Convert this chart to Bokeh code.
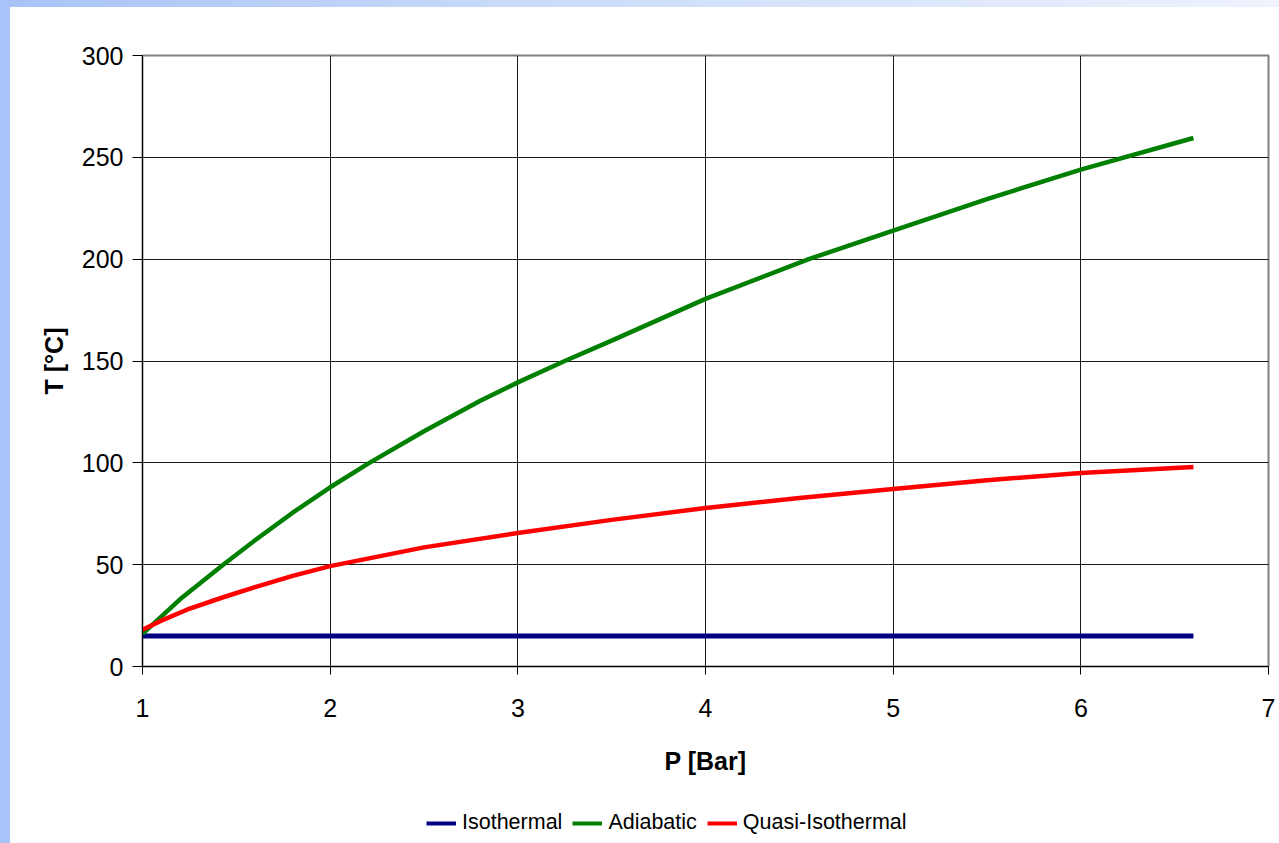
from bokeh.plotting import figure
from bokeh.models import Range1d, FixedTicker, Legend, LegendItem
from bokeh.layouts import column
from bokeh.embed import file_html
from bokeh.resources import INLINE

# ---- data ----
p_iso = [1.0, 6.6]
t_iso = [15, 15]

p_adi = [1.0, 1.2, 1.43, 1.6, 1.8, 2.0, 2.2, 2.5, 2.8, 3.0, 3.25, 3.5, 4.0,
         4.55, 5.0, 5.5, 6.0, 6.6]
t_adi = [16, 33, 50, 62, 75.5, 88, 99.5, 115.5, 130.5, 139.5, 150, 160, 180.5,
         200, 214, 229.5, 244, 259.5]

p_quasi = [1.0, 1.1, 1.24, 1.43, 1.6, 1.8, 2.0, 2.5, 3.0, 3.5, 4.0, 4.5, 5.0,
           5.5, 6.0, 6.6]
t_quasi = [18, 22.5, 28, 34, 39, 44.5, 49.3, 58.5, 65.5, 72, 77.8, 82.7, 87.2,
           91.5, 95, 98]

series_names = ["Isothermal", "Adiabatic", "Quasi-Isothermal"]
series_colors = ["#000080", "#008000", "#ff0000"]
series_widths = [5, 4.5, 4.5]

x_ticks = [1, 2, 3, 4, 5, 6, 7]
y_ticks = [0, 50, 100, 150, 200, 250, 300]

FONT = "Liberation Sans"

p = figure(frame_width=1126, frame_height=611, width=1269, height=780,
           x_range=Range1d(1, 7), y_range=Range1d(0, 300),
           output_backend="svg", toolbar_location=None,
           min_border_left=132, min_border_right=11,
           min_border_top=48, min_border_bottom=121,
           background_fill_color="white", border_fill_color="white")

p.outline_line_color = "#808080"
p.outline_line_width = 2

for g in (p.xgrid, p.ygrid):
    g.grid_line_color = "#1a1a1a"
    g.grid_line_width = 1
p.xaxis.ticker = FixedTicker(ticks=x_ticks)
p.yaxis.ticker = FixedTicker(ticks=y_ticks)

for ax in (p.xaxis, p.yaxis):
    ax.axis_line_color = "black"
    ax.major_tick_line_color = "black"
    ax.minor_tick_line_color = None
    ax.major_tick_in = 0
    ax.major_label_text_font = FONT
    ax.major_label_text_font_size = "25px"
    ax.major_label_text_color = "black"
    ax.axis_label_text_font = FONT
    ax.axis_label_text_font_size = "25px"
    ax.axis_label_text_font_style = "bold"
    ax.axis_label_text_color = "black"

p.xaxis.major_tick_out = 8
p.xaxis.major_label_standoff = 24
p.xaxis.axis_label = "P [Bar]"
p.xaxis.axis_label_standoff = 27

p.yaxis.major_tick_out = 10
p.yaxis.major_label_standoff = 9
p.yaxis.axis_label = "T [°C]"
p.yaxis.axis_label_standoff = 11

data = [(p_iso, t_iso), (p_adi, t_adi), (p_quasi, t_quasi)]
for (xs, ys), c, w in zip(data, series_colors, series_widths):
    p.line(xs, ys, line_color=c, line_width=w)

# ---- legend strip below the chart (series drawn out of view, only the
# legend entries show) ----
leg = figure(width=1269, height=56, x_range=Range1d(-10, -9), y_range=Range1d(-10, -9),
             output_backend="svg", toolbar_location=None,
             x_axis_location=None, y_axis_location=None, min_border=0,
             background_fill_color=None, border_fill_color="white")
leg.outline_line_color = None
leg.grid.visible = False
items = []
for (xs, ys), name, c in zip(data, series_names, series_colors):
    r = leg.line(xs, ys, line_color=c, line_width=4)
    items.append(LegendItem(label=name, renderers=[r]))

legend = Legend(items=items, orientation="horizontal", location=(284, 8))
legend.label_text_font = FONT
legend.label_text_font_size = "21.5px"
legend.label_text_color = "black"
legend.glyph_width = 30
legend.glyph_height = 24
legend.label_standoff = 6
legend.spacing = 10
legend.padding = 0
legend.margin = 0
legend.border_line_color = None
legend.background_fill_alpha = 0
leg.add_layout(legend)

layout = column(p, leg, spacing=0, styles={
    "background": "linear-gradient(#ffffff, #ffffff) content-box, "
                  "linear-gradient(to right, #a7c3f7 0%, #c9daf9 40%, #eef3fd 100%)",
    "padding": "7px 0px 0px 10px",
})

open("out.html", "w").write(file_html(layout, INLINE))
